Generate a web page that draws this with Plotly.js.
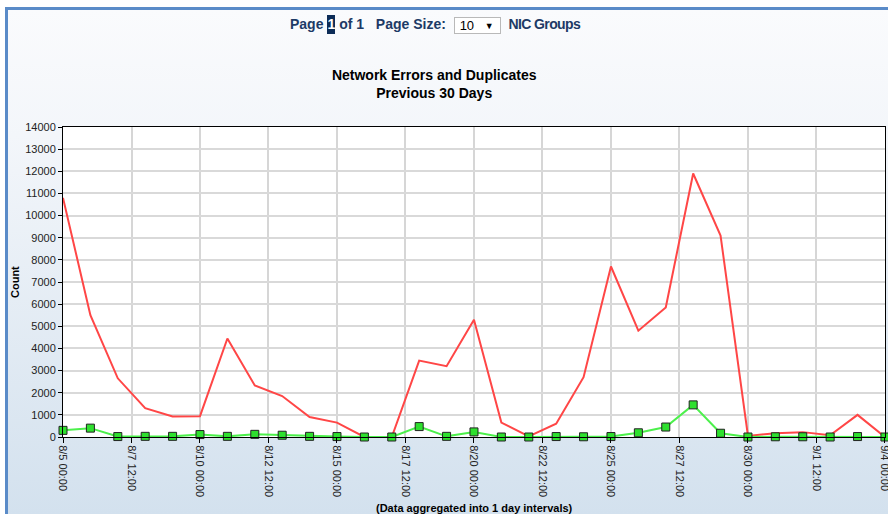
<!DOCTYPE html>
<html>
<head>
<meta charset="utf-8">
<script src="https://cdn.plot.ly/plotly-3.0.1.min.js"></script>
<style>
  html, body { margin:0; padding:0; width:888px; height:514px; overflow:hidden; background:#ffffff; }
  #panel { position:absolute; left:5px; top:7px; width:883px; height:507px;
           border-left:3px solid #5a8bc8; border-top:3px solid #5a8bc8; box-sizing:border-box;
           background:linear-gradient(to bottom, #fafbfd 0%, #f3f6fa 25%, #d3e1ee 100%); }
  #chart { position:absolute; left:0; top:0; width:888px; height:514px; }
  #pager { position:absolute; left:290px; top:15px; text-align:left;
           font-family:Arial, "Liberation Sans", sans-serif; font-weight:bold; font-size:14px; color:#1d3a66; white-space:nowrap; }
  #pager .cur { display:inline-block; background:#0c2c57; color:#fff; padding:0 0px; width:8px; text-align:center; line-height:19px; }
  #pager .sel { display:inline-block; width:47px; height:17px; border:1px solid #b9b9b9; background:#fff; color:#000;
                font-weight:normal; text-align:left; padding-left:5px; box-sizing:border-box; line-height:15px; vertical-align:middle; position:relative; font-size:13px; }
  #pager .sel .arr { position:absolute; right:6px; top:1px; font-size:9px; }
  #pager .nic { letter-spacing:-0.6px; }
</style>
</head>
<body>
<div id="panel"></div>
<div id="chart"></div>
<div id="pager">Page <span class="cur">1</span> of 1&nbsp;&nbsp; Page Size:&nbsp; <span class="sel">10<span class="arr">&#9660;</span></span>&nbsp; <span class="nic">NIC Groups</span></div>
<script>
// Data
var days = ["2013-08-05","2013-08-06","2013-08-07","2013-08-08","2013-08-09","2013-08-10","2013-08-11","2013-08-12",
            "2013-08-13","2013-08-14","2013-08-15","2013-08-16","2013-08-17","2013-08-18","2013-08-19","2013-08-20",
            "2013-08-21","2013-08-22","2013-08-23","2013-08-24","2013-08-25","2013-08-26","2013-08-27","2013-08-28",
            "2013-08-29","2013-08-30","2013-08-31","2013-09-01","2013-09-02","2013-09-03","2013-09-04"];
var errors = [10800, 5500, 2650, 1300, 930, 940, 4450, 2330, 1850, 900, 650, 0, 0, 3450, 3200, 5300,
              650, 30, 600, 2700, 7700, 4800, 5850, 11900, 9100, 50, 170, 220, 80, 1000, 0];
var duplicates = [300, 400, 20, 30, 30, 110, 30, 120, 80, 30, 20, 0, 0, 470, 30, 230,
                  0, 0, 20, 10, 20, 190, 450, 1450, 170, 0, 10, 10, 0, 20, 0];
var tickDates = ["2013-08-05 00:00","2013-08-07 12:00","2013-08-10 00:00","2013-08-12 12:00","2013-08-15 00:00",
                 "2013-08-17 12:00","2013-08-20 00:00","2013-08-22 12:00","2013-08-25 00:00","2013-08-27 12:00",
                 "2013-08-30 00:00","2013-09-01 12:00","2013-09-04 00:00"];
var tickLabels = ["8/5 00:00","8/7 12:00","8/10 00:00","8/12 12:00","8/15 00:00","8/17 12:00","8/20 00:00",
                  "8/22 12:00","8/25 00:00","8/27 12:00","8/30 00:00","9/1 12:00","9/4 00:00"];
var chartTitle = "Network Errors and Duplicates<br>Previous 30 Days";

var font = "Arial, 'Liberation Sans', sans-serif";
var traces = [
  { x: days, y: errors, type: 'scatter', mode: 'lines', name: 'Errors',
    line: { color: '#ff4646', width: 2 }, cliponaxis: false },
  { x: days, y: duplicates, type: 'scatter', mode: 'lines+markers', name: 'Duplicates',
    line: { color: '#4cf04c', width: 2 },
    marker: { symbol: 'square', size: 8, color: '#2ee02e', line: { color: '#222', width: 1 } },
    cliponaxis: false }
];
var layout = {
  width: 888, height: 514,
  margin: { l: 63, r: 3, t: 127, b: 77 },
  paper_bgcolor: 'rgba(0,0,0,0)', plot_bgcolor: '#ffffff',
  showlegend: false,
  font: { family: font, size: 11, color: '#222' },
  title: { text: '<b>' + chartTitle + '</b>', x: 0.489, xanchor: 'center', xref: 'container',
           y: 1 - 80/514, yanchor: 'middle', yref: 'container',
           font: { family: font, size: 14, color: '#000' } },
  xaxis: { type: 'date', range: ['2013-08-05 00:00', '2013-09-04 00:03'], tickmode: 'array',
           tickvals: tickDates, ticktext: tickLabels, tickangle: 90, ticklabeloverflow: 'allow',
           showgrid: true, gridcolor: '#d6d6d6', gridwidth: 2,
           showline: true, linecolor: '#000', linewidth: 1, mirror: true,
           ticks: 'outside', ticklen: 5, tickcolor: '#000',
           tickfont: { family: font, size: 11, color: '#222' }, zeroline: false, fixedrange: true },
  yaxis: { range: [0, 14000], dtick: 1000, tick0: 0, tickformat: 'd',
           showgrid: true, gridcolor: '#d9d9d9', gridwidth: 2,
           showline: true, linecolor: '#000', linewidth: 1, mirror: true,
           ticks: 'outside', ticklen: 4, tickcolor: '#000',
           tickfont: { family: font, size: 11, color: '#222' }, zeroline: false, fixedrange: true },
  annotations: [
    { text: '<b>Count</b>', xref: 'paper', yref: 'paper', x: (15 - 63) / 822, y: 0.5,
      xanchor: 'center', yanchor: 'middle', textangle: -90, showarrow: false,
      font: { family: font, size: 11, color: '#000' } },
    { text: '<b>(Data aggregated into 1 day intervals)</b>', xref: 'paper', yref: 'paper',
      x: (474 - 63) / 822, y: -(508 - 437.5) / 310, xanchor: 'center', yanchor: 'middle', showarrow: false,
      font: { family: font, size: 11, color: '#000' } }
  ]
};
Plotly.newPlot('chart', traces, layout, { displayModeBar: false, staticPlot: true });
</script>
</body>
</html>
